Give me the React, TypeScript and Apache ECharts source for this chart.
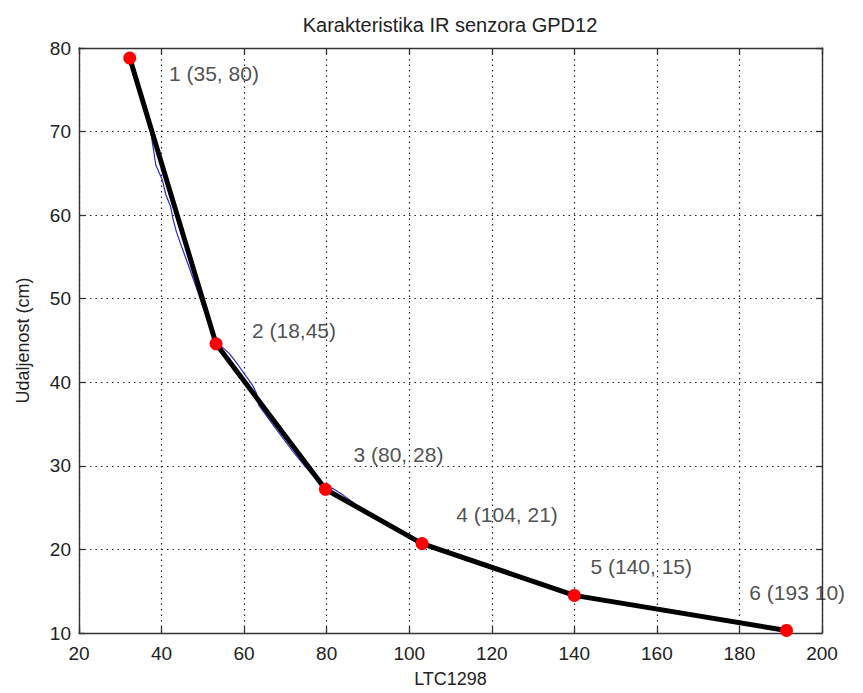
import React, { useEffect, useRef } from "react";
import * as echarts from "echarts";

const titleText = "Karakteristika IR senzora GPD12";
const xName = "LTC1298";
const yName = "Udaljenost (cm)";

// Red calibration points (black piecewise line)
const knotX = [32.3, 53.2, 79.7, 103.1, 140.0, 191.4];
const knotY = [78.8, 44.6, 27.2, 20.7, 14.5, 10.3];

// Measured curve (thin blue)
const blueX = [32.3, 34.3, 36.0, 37.2, 38.0, 38.6, 40.2, 41.0, 42.2, 42.8, 43.6, 44.8, 46.5, 48.3, 50.0, 51.7, 53.2,
  54.5, 56.5, 58.5, 60.5, 62.0, 63.0, 63.5, 64.5, 66.0, 69.0, 72.0, 75.0, 78.0, 79.7,
  81.5, 84.0, 87.0, 90.0, 94.0, 98.0, 101.0, 103.1, 115.0, 128.0, 140.0, 155.0, 170.0, 182.0, 191.4];
const blueY = [78.8, 75.8, 73.0, 70.5, 68.0, 66.0, 64.2, 62.5, 61.0, 59.5, 58.0, 56.3, 54.0, 51.5, 49.0, 46.8, 44.6,
  44.3, 43.4, 42.1, 40.7, 39.7, 38.7, 37.3, 36.6, 35.6, 33.6, 31.6, 29.8, 28.1, 27.3,
  27.3, 26.5, 25.4, 24.5, 23.2, 22.0, 21.2, 20.7, 18.7, 16.5, 14.5, 13.3, 12.0, 11.0, 10.3];

// Annotation texts and their anchor (left-middle) positions
const labelTexts = ["1 (35, 80)", "2 (18,45)", "3 (80, 28)", "4 (104, 21)", "5 (140, 15)", "6 (193 10)"];
const labelX = [41.8, 61.9, 86.5, 111.4, 143.9, 182.4];
const labelY = [76.9, 46.2, 31.3, 24.2, 17.9, 14.9];

const xMin = 20, xMax = 200, xStep = 20;
const yMin = 10, yMax = 80, yStep = 10;

export default function App() {
  const ref = useRef<HTMLDivElement>(null);
  useEffect(() => {
    if (!ref.current) return;
    const chart = echarts.init(ref.current, undefined, { renderer: "svg" });
    const font = "'Liberation Sans', Arial, sans-serif";
    const axisLine = { show: true, lineStyle: { color: "#333", width: 1.4 } };
    const tick = { show: true, inside: true, length: 6, lineStyle: { color: "#333", width: 1.3 } };
    const split = { show: true, lineStyle: { color: "#222", type: [1.5, 4] as any, width: 1.2 } };
    chart.setOption({
      animation: false,
      backgroundColor: "#ffffff",
      textStyle: { fontFamily: font },
      title: {
        text: titleText,
        left: 445,
        top: 10,
        textAlign: "center",
        textStyle: { fontFamily: font, fontSize: 20, fontWeight: "normal", color: "#222" },
      },
      grid: { left: 79, right: 41, top: 48, bottom: 57, containLabel: false },
      xAxis: [
        {
          type: "value", min: xMin, max: xMax, interval: xStep, position: "bottom",
          name: xName, nameLocation: "middle", nameGap: 37,
          nameTextStyle: { fontFamily: font, fontSize: 18, color: "#222" },
          axisLine, axisTick: tick, splitLine: split,
          axisLabel: { fontFamily: font, fontSize: 19, color: "#222", margin: 11 },
        },
        {
          type: "value", min: xMin, max: xMax, interval: xStep, position: "top",
          axisLine, axisTick: tick, splitLine: { show: false }, axisLabel: { show: false },
        },
      ],
      yAxis: [
        {
          type: "value", min: yMin, max: yMax, interval: yStep, position: "left",
          name: yName, nameLocation: "middle", nameGap: 47,
          nameTextStyle: { fontFamily: font, fontSize: 18, color: "#222" },
          axisLine, axisTick: tick, splitLine: split,
          axisLabel: { fontFamily: font, fontSize: 19, color: "#222", margin: 8 },
        },
        {
          type: "value", min: yMin, max: yMax, interval: yStep, position: "right",
          axisLine, axisTick: tick, splitLine: { show: false }, axisLabel: { show: false },
        },
      ],
      series: [
        {
          type: "line",
          data: blueX.map((x, i) => [x, blueY[i]]),
          showSymbol: false,
          lineStyle: { color: "#2a2ad0", width: 1.2 },
          z: 2,
        },
        {
          type: "line",
          data: knotX.map((x, i) => [x, knotY[i]]),
          showSymbol: false,
          lineStyle: { color: "#000000", width: 5 },
          z: 3,
        },
        {
          type: "scatter",
          data: knotX.map((x, i) => [x, knotY[i]]),
          symbol: "circle",
          symbolSize: 13,
          itemStyle: { color: "#ff0000", opacity: 1 },
          z: 4,
        },
        {
          type: "scatter",
          data: labelX.map((x, i) => ({ value: [x, labelY[i]], name: labelTexts[i] })),
          symbolSize: 0,
          label: {
            show: true,
            position: "right",
            distance: 0,
            formatter: (p: any) => p.name,
            fontFamily: font,
            fontSize: 21,
            color: "#222",
          },
          z: 5,
        },
      ],
    });
    return () => chart.dispose();
  }, []);
  return <div ref={ref} style={{ position: "fixed", left: 0, top: 0, width: 863, height: 693 }} />;
}
